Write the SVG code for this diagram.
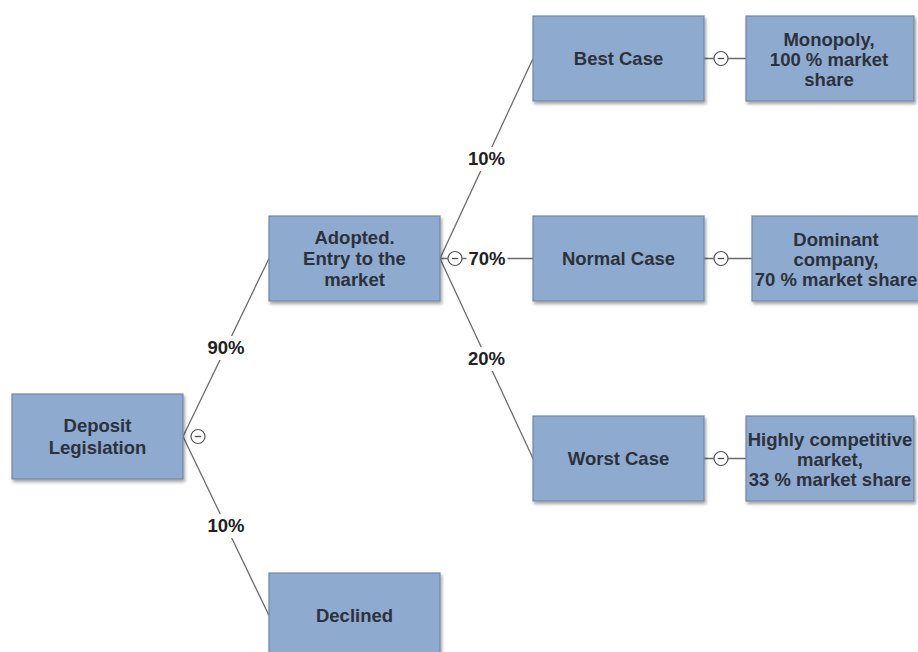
<svg xmlns="http://www.w3.org/2000/svg" width="918" height="652" viewBox="0 0 918 652">
<defs>
<filter id="sh" x="-10%" y="-10%" width="125%" height="130%">
<feDropShadow dx="1.5" dy="2.5" stdDeviation="1.5" flood-color="#000" flood-opacity="0.35"/>
</filter>
<g id="ctrl">
<circle cx="0" cy="0" r="7" fill="#fff" stroke="#555" stroke-width="1.2"/>
<line x1="-3.2" y1="0" x2="3.2" y2="0" stroke="#555" stroke-width="1.4"/>
</g>
</defs>
<style>
.box{fill:#8eaace;stroke:#7389a6;stroke-width:1.2;filter:url(#sh)}
.t{font-family:"Liberation Sans",Arial,sans-serif;font-weight:bold;font-size:18.5px;fill:#2b323c;text-anchor:middle}
.lbl{font-family:"Liberation Sans",Arial,sans-serif;font-weight:bold;font-size:18.5px;fill:#222;text-anchor:middle}
.ln{stroke:#6a6a6a;stroke-width:1.3;fill:none}
.lb{fill:#fff}
</style>
<rect width="918" height="652" fill="#fff"/>
<g id="connectors">
<line class="ln" x1="183" y1="436.5" x2="269" y2="258.5"/>
<line class="ln" x1="183" y1="436.5" x2="269" y2="615.5"/>
<line class="ln" x1="440" y1="258.5" x2="533" y2="58.5"/>
<line class="ln" x1="440" y1="258.5" x2="533" y2="258.5"/>
<line class="ln" x1="440" y1="258.5" x2="533" y2="458.5"/>
<line class="ln" x1="704" y1="58.5" x2="746" y2="58.5"/>
<line class="ln" x1="704" y1="258.5" x2="752" y2="258.5"/>
<line class="ln" x1="704" y1="458.5" x2="746" y2="458.5"/>
<rect class="lb" x="205" y="336" width="42" height="24"/>
<text class="lbl" x="226" y="354">90%</text>
<rect class="lb" x="205" y="514" width="42" height="24"/>
<text class="lbl" x="226" y="532">10%</text>
<rect class="lb" x="465.5" y="147" width="42" height="24"/>
<text class="lbl" x="486.5" y="165">10%</text>
<rect class="lb" x="466.5" y="247" width="41" height="24"/>
<text class="lbl" x="487" y="265">70%</text>
<rect class="lb" x="465.5" y="347" width="42" height="24"/>
<text class="lbl" x="486.5" y="365">20%</text>
<use href="#ctrl" x="198" y="436.5"/>
<use href="#ctrl" x="455" y="258.5"/>
<use href="#ctrl" x="721" y="58.5"/>
<use href="#ctrl" x="721" y="258.5"/>
<use href="#ctrl" x="721" y="458.5"/>
</g>
<g id="deposit">
<rect class="box" x="12" y="394" width="171" height="85"/>
<text class="t" x="97.5" y="432">Deposit</text>
<text class="t" x="97.5" y="454">Legislation</text>
</g>
<g id="adopted">
<rect class="box" x="269" y="216" width="171" height="85"/>
<text class="t" x="354.5" y="244">Adopted.</text>
<text class="t" x="354.5" y="265">Entry to the</text>
<text class="t" x="354.5" y="286">market</text>
</g>
<g id="declined">
<rect class="box" x="269" y="573" width="171" height="85"/>
<text class="t" x="354.5" y="622">Declined</text>
</g>
<g id="best">
<rect class="box" x="533" y="16" width="171" height="85"/>
<text class="t" x="618.5" y="65">Best Case</text>
</g>
<g id="normal">
<rect class="box" x="533" y="216" width="171" height="85"/>
<text class="t" x="618.5" y="265">Normal Case</text>
</g>
<g id="worst">
<rect class="box" x="533" y="416" width="171" height="85"/>
<text class="t" x="618.5" y="465">Worst Case</text>
</g>
<g id="monopoly">
<rect class="box" x="746" y="16" width="168" height="85"/>
<text class="t" x="829" y="46">Monopoly,</text>
<text class="t" x="829" y="66">100 % market</text>
<text class="t" x="829" y="86">share</text>
</g>
<g id="dominant">
<rect class="box" x="752" y="216" width="171" height="85"/>
<text class="t" x="836" y="246">Dominant</text>
<text class="t" x="836" y="266">company,</text>
<text class="t" x="836" y="286">70 % market share</text>
</g>
<g id="highly">
<rect class="box" x="746" y="416" width="168" height="85"/>
<text class="t" x="830" y="446">Highly competitive</text>
<text class="t" x="830" y="466">market,</text>
<text class="t" x="830" y="486">33 % market share</text>
</g>
</svg>
